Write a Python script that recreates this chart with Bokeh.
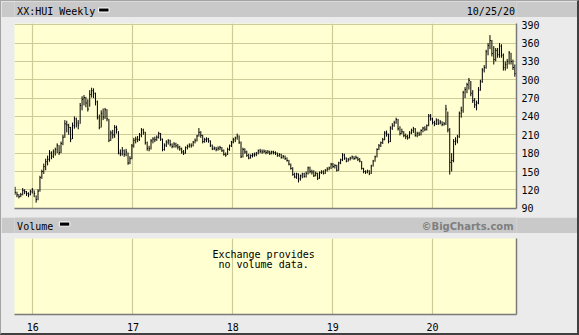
import pandas as pd
from bokeh.plotting import figure
from bokeh.models import Range1d, FixedTicker, ColumnDataSource
from bokeh.core.properties import value
from bokeh.layouts import column
from bokeh.embed import file_html
from bokeh.resources import INLINE

# ---------------- data (weekly HUI bars) ----------------
close = [116,112,109,112,119,117,114,112,117,120,
         114,104,118,140,150,158,166,170,180,175,
         182,186,193,181,196,206,228,226,222,203,
         225,236,229,226,258,268,271,262,252,276,
         282,278,264,238,222,245,239,251,236,201,
         213,210,222,219,180,179,184,178,182,164,
         171,192,201,203,202,210,218,214,197,188,
         187,200,203,202,206,212,203,186,193,198,
         200,194,191,195,192,190,187,182,180,189,
         191,193,192,198,201,208,214,209,199,202,
         203,200,193,187,188,186,188,189,184,178,
         177,186,192,198,202,205,208,198,174,186,
         182,176,172,176,177,178,180,184,183,182,
         183,181,182,180,182,181,180,176,178,173,
         175,171,168,162,155,145,141,146,138,143,
         146,142,147,156,150,149,143,147,139,148,
         149,147,152,154,156,162,158,160,152,164,
         169,177,172,167,170,172,174,171,173,170,
         167,155,150,149,151,147,159,167,174,186,
         192,197,202,213,211,199,221,225,230,235,
         220,212,215,209,207,205,213,217,220,209,
         212,211,217,221,219,225,241,236,230,228,
         234,229,231,227,228,252,218,165,168,199,
         200,207,245,250,279,284,292,299,278,266,
         259,262,283,297,316,320,346,356,364,343,
         333,348,341,355,340,320,325,330,344,330,
         320,310]
high = [125,117,113,115,123,121,118,116,120,123,
        119,111,121,143,153,163,171,176,185,183,
        186,189,196,193,199,210,234,233,228,223,
        230,240,238,234,262,273,275,272,268,283,
        287,286,279,266,243,250,253,254,252,236,
        217,218,226,225,216,186,190,186,187,181,
        175,195,205,207,208,213,221,220,215,199,
        192,203,206,207,209,215,213,204,196,201,
        203,202,196,198,197,195,192,189,185,191,
        194,196,196,200,204,210,221,216,210,205,
        206,205,201,194,191,190,191,192,190,186,
        181,189,194,200,205,207,212,209,199,189,
        188,184,179,178,180,181,182,186,187,186,
        186,185,185,184,184,184,183,181,180,179,
        177,176,173,169,163,157,148,148,147,145,
        148,148,150,158,158,153,152,150,148,150,
        152,152,154,157,158,164,164,162,161,166,
        171,180,179,173,172,174,176,175,176,174,
        172,167,156,152,153,152,161,169,176,188,
        195,199,205,216,217,212,224,229,233,238,
        236,224,220,216,212,210,216,220,223,221,
        215,215,219,223,224,227,244,244,238,233,
        237,236,234,232,231,259,248,221,180,203,
        206,210,248,256,282,288,295,303,298,283,
        270,266,288,300,319,324,349,360,373,365,
        355,352,352,360,358,343,330,334,347,344,
        333,325]
low = [112,108,106,108,111,113,110,108,111,114,
       108,99,103,117,138,146,152,160,166,170,
       172,176,180,177,180,193,205,214,210,198,
       203,220,222,219,228,250,258,255,248,256,
       271,270,258,235,219,222,234,236,232,198,
       200,204,205,212,178,175,176,174,175,161,
       162,170,189,196,198,200,206,210,194,184,
       183,186,196,198,200,204,200,183,184,190,
       194,191,188,189,189,186,184,179,177,179,
       186,189,189,191,196,199,207,205,196,197,
       198,197,190,185,185,183,184,185,182,176,
       174,177,184,190,196,198,202,195,172,173,
       179,174,170,171,173,174,175,178,180,179,
       180,178,179,177,178,178,177,174,174,171,
       171,169,166,160,153,143,139,138,132,135,
       139,140,140,145,147,145,141,142,136,138,
       146,145,146,150,152,154,156,155,150,151,
       162,167,169,165,166,168,170,169,170,167,
       165,153,147,146,147,144,146,158,166,173,
       185,190,195,201,207,196,198,218,223,228,
       217,209,211,206,203,202,204,211,213,207,
       206,208,209,214,216,217,224,233,227,224,
       226,226,227,224,225,226,214,145,150,165,
       193,196,205,238,246,270,278,284,273,262,
       254,250,260,282,295,312,318,340,350,338,
       325,330,336,336,336,315,315,318,325,325,
       316,305]
first_week = "2015-10-28"
price_ticks = [90, 120, 150, 180, 210, 240, 270, 300, 330, 360, 390]
years = [2016, 2017, 2018, 2019, 2020]
year_labels = ["16", "17", "18", "19", "20"]
title_text = "XX:HUI Weekly"
date_text = "10/25/20"

# ---------------- styling ----------------
BG = "#ebebeb"
BAND = "#c9c9c9"
PANEL = "#ffffd2"
GRID = "#cccc99"
EDGE = "#7a7a7a"
MONO = "DejaVu Sans Mono"
FS = "10px"

dates = pd.date_range(first_week, periods=len(close), freq="7D")
src = ColumnDataSource(dict(date=dates, date_r=dates + pd.Timedelta(days=3.5),
                            high=high, low=low, close=close))
year_ms = [pd.Timestamp(f"{y}-01-01").value // 10**6 for y in years]
xr = Range1d(pd.Timestamp("2015-10-26"), pd.Timestamp("2020-11-03"))


def band(height):
    # header strip: x in pixels from the left, y in pixels up from the bottom
    f = figure(width=576, height=height, x_range=Range1d(0, 576), y_range=Range1d(0, height),
               x_axis_type=None, y_axis_type=None, toolbar_location=None, output_backend="svg",
               min_border=0, min_border_left=0, min_border_right=0, min_border_top=0,
               min_border_bottom=0, background_fill_color=BAND, border_fill_color=BAND,
               outline_line_color=None, title=None)
    f.grid.visible = False
    return f


def band_text(f, x, y, txt, font=MONO, color="black", style="normal"):
    f.text(x=[x], y=[y], text=[txt], text_font=value(font), text_font_size=value(FS),
           text_align=value("left"), text_baseline=value("alphabetic"),
           text_color=value(color), text_font_style=value(style))


def legend_box(f, left, right, top, bottom):
    f.quad(left=[left], right=[right], top=[top], bottom=[bottom],
           fill_color="black", line_color="white", line_width=1)


fA = band(16)
band_text(fA, 3, 6.0, title_text)
band_text(fA, 519, 6.0, date_text)
legend_box(fA, 96.5, 108.5, 9.5, 5.5)

# ---------------- price panel ----------------
fB = figure(width=576, height=200, x_range=xr, y_range=Range1d(89.5, 392),
            x_axis_type="datetime", y_axis_location="right", toolbar_location=None,
            output_backend="svg", min_border_left=13, min_border_right=61,
            min_border_top=6, min_border_bottom=9, background_fill_color=PANEL,
            border_fill_color=BG, outline_line_color=None, title=None)
fB.yaxis.ticker = FixedTicker(ticks=price_ticks)
fB.yaxis.major_tick_line_color = None
fB.yaxis.minor_tick_line_color = None
fB.yaxis.major_tick_out = 0
fB.yaxis.major_tick_in = 0
fB.yaxis.minor_tick_out = 0
fB.yaxis.axis_line_color = EDGE
fB.yaxis.axis_line_width = 1.5
fB.yaxis.major_label_standoff = 5
fB.yaxis.major_label_text_font = MONO
fB.yaxis.major_label_text_font_size = FS
fB.yaxis.major_label_text_color = "black"
fB.xaxis.ticker = FixedTicker(ticks=[])
fB.xaxis.major_tick_line_color = None
fB.xaxis.minor_tick_line_color = None
fB.xaxis.major_tick_out = 0
fB.xaxis.minor_tick_out = 0
fB.xaxis.major_label_standoff = 0
fB.xaxis.axis_line_color = EDGE
fB.xaxis.axis_line_width = 1.5
fB.xgrid.ticker = FixedTicker(ticks=year_ms)
fB.ygrid.ticker = FixedTicker(ticks=price_ticks)
fB.grid.grid_line_color = GRID
fB.grid.grid_line_width = 1.2
fB.segment(x0="date", y0="low", x1="date", y1="high", source=src,
           line_color="black", line_width=1)
fB.segment(x0="date", y0="close", x1="date_r", y1="close", source=src,
           line_color="black", line_width=1)

# ---------------- volume header ----------------
fC = band(16)
band_text(fC, 3, 7.0, "Volume")
band_text(fC, 467, 6.6, "\u00a9BigCharts.com", font="DejaVu Sans",
          color="#7f7f7f", style="bold")
legend_box(fC, 51.5, 63.5, 11.5, 7.3)

# ---------------- volume panel ----------------
fD = figure(width=576, height=100, x_range=xr, y_range=Range1d(0, 78),
            x_axis_type="datetime", y_axis_location="right", toolbar_location=None,
            output_backend="svg", min_border_left=13, min_border_right=61,
            min_border_top=5, min_border_bottom=17, background_fill_color=PANEL,
            border_fill_color=BG, outline_line_color=None, title=None)
fD.xaxis.ticker = FixedTicker(ticks=year_ms)
fD.xaxis.major_label_overrides = {ms: lab for ms, lab in zip(year_ms, year_labels)}
fD.xaxis.major_tick_line_color = None
fD.xaxis.minor_tick_line_color = None
fD.xaxis.major_tick_out = 0
fD.xaxis.minor_tick_out = 0
fD.xaxis.major_label_standoff = 8
fD.xaxis.major_label_text_font = MONO
fD.xaxis.major_label_text_font_size = FS
fD.xaxis.major_label_text_color = "black"
fD.xaxis.axis_line_color = EDGE
fD.xaxis.axis_line_width = 1.5
fD.yaxis.ticker = FixedTicker(ticks=[])
fD.yaxis.major_tick_line_color = None
fD.yaxis.minor_tick_line_color = None
fD.yaxis.major_tick_out = 0
fD.yaxis.minor_tick_out = 0
fD.yaxis.major_label_standoff = 0
fD.yaxis.axis_line_color = EDGE
fD.yaxis.axis_line_width = 1.5
fD.xgrid.ticker = FixedTicker(ticks=year_ms)
fD.xgrid.grid_line_color = GRID
fD.xgrid.grid_line_width = 1.2
fD.ygrid.visible = False
mid = xr.start + (xr.end - xr.start) / 2 - pd.Timedelta(days=7)
fD.text(x=[mid, mid], y=[61.3, 51.3], text=["Exchange provides", "no volume data."],
        text_font=value(MONO), text_font_size=value(FS), text_align=value("center"),
        text_baseline=value("alphabetic"), text_color=value("black"))

layout = column(fA, fB, fC, fD, spacing=0,
                styles={"border-left": "1px solid #a4a4a4", "border-top": "1px solid #a4a4a4",
                        "border-right": "2px solid #404040", "border-bottom": "2px solid #404040",
                        "background-color": BG})

open("out.html", "w").write(file_html(layout, INLINE))
